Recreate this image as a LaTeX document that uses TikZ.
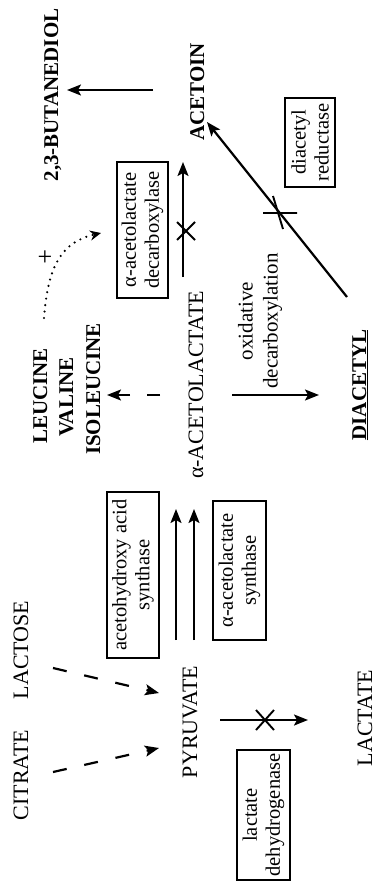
\documentclass[tikz,border=0pt]{standalone}
\usepackage{fontspec}
\setmainfont{Liberation Serif}
\usetikzlibrary{arrows.meta}
\begin{document}
\begin{tikzpicture}[x=1pt,y=-1pt,
  lab/.style={rotate=90, anchor=base, inner sep=0pt, font=\fontsize{22}{24}\selectfont},
  blab/.style={rotate=90, anchor=base, inner sep=0pt, font=\fontsize{21}{24}\selectfont\bfseries},
  enz/.style={draw, rotate=90, line width=1.6pt, align=center, inner sep=0pt, font=\fontsize{20.5}{23}\selectfont},
  arr/.style={line width=2.2pt, -{Stealth[length=14pt,width=11pt,inset=3pt]}},
  xmark/.style={line width=1.9pt},
]
\useasboundingbox (0,0) rectangle (380,891);

% labels
\node[blab] (but) at (58,95) {2,3-BUTANEDIOL};
\node[blab] (acn) at (204,92) {ACETOIN};
\node[blab] (leu) at (47,396) {LEUCINE};
\node[blab] (val) at (73,397) {VALINE};
\node[blab] (ile) at (100,389) {ISOLEUCINE};
\node[lab] (aal) at (203,385) {α-ACETOLACTATE};
\node[blab] (dia) at (366,385) {\underline{DIACETYL}};
\node[lab] (cit) at (28,775) {CITRATE};
\node[lab] (lac) at (28,650) {LACTOSE};
\node[lab] (pyr) at (197,722) {PYRUVATE};
\node[lab] (lat) at (372,718) {LACTATE};
\node[rotate=90, inner sep=0pt, align=center, font=\fontsize{21}{25}\selectfont] (oxd) at (260,321) {oxidative\\decarboxylation};
\node[font=\fontsize{26}{28}\selectfont, inner sep=0pt] (plus) at (45,258) {+};

% enzyme boxes
\node[enz, minimum width=136pt, minimum height=51pt] (dcb) at (142.5,230) {α-acetolactate\\decarboxylase};
\node[enz, minimum width=89pt, minimum height=50pt] (drd) at (310,142.5) {diacetyl\\reductase};
\node[enz, minimum width=166pt, minimum height=52pt] (ahs) at (133,575) {acetohydroxy acid\\synthase};
\node[enz, minimum width=139pt, minimum height=53pt] (als) at (239.5,570.5) {α-acetolactate\\synthase};
\node[enz, minimum width=130pt, minimum height=53pt] (ldh) at (263.5,815) {lactate\\dehydrogenase};

% connector end points
\coordinate (a1) at (153,90);  \coordinate (a2) at (67,90);
\coordinate (d1) at (183,277); \coordinate (d2) at (183,162);
\coordinate (r1) at (347,297); \coordinate (r2) at (207,122);
\coordinate (s1) at (176,640); \coordinate (s2) at (176,509);
\coordinate (t1) at (194,640); \coordinate (t2) at (194,509);
\coordinate (l1) at (160,395); \coordinate (l2) at (107,395);
\coordinate (o1) at (232,395); \coordinate (o2) at (319,395);
\coordinate (p1) at (220,720); \coordinate (p2) at (308,720);
\coordinate (c1) at (53,772);  \coordinate (c2) at (159,748);
\coordinate (k1) at (53,668);  \coordinate (k2) at (159,693);
\coordinate (f1) at (44,318);  \coordinate (f2) at (101,233);

% arrows
\draw[arr] (a1) -- (a2);
\draw[arr] (d1) -- (d2);
\draw[arr] (r1) -- (r2);
\draw[arr] (s1) -- (s2);
\draw[arr] (t1) -- (t2);
\draw[arr, dash pattern=on 13pt off 17pt] (l1) -- (l2);
\draw[arr] (o1) -- (o2);
\draw[arr] (p1) -- (p2);
\draw[arr, dash pattern=on 14pt off 18pt] (c1) -- (c2);
\draw[arr, dash pattern=on 14pt off 18pt] (k1) -- (k2);
\draw[line width=2.4pt, dash pattern=on 0pt off 6.5pt, line cap=round, -{Stealth[length=11pt,width=10pt]}]
  (f1) .. controls (48,265) and (62,242) .. (f2);

% X marks
\draw[xmark] (177,222) -- (195,240) (177,240) -- (195,222);
\draw[xmark] (263,213) -- (297,213) (273,196) -- (283,229);
\draw[xmark] (256,710) -- (274,730) (256,730) -- (274,710);
\end{tikzpicture}
\end{document}
